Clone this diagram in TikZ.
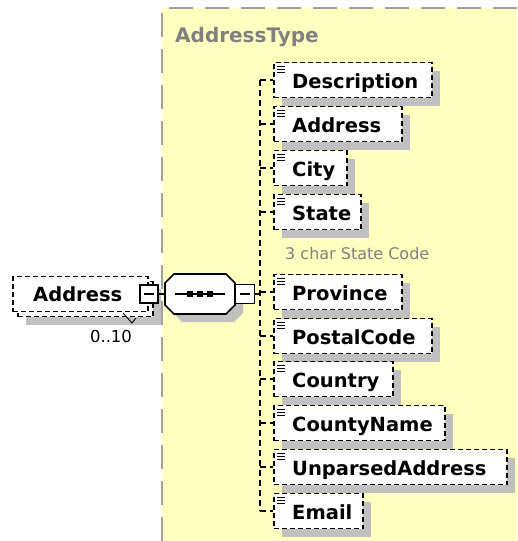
\documentclass[tikz,border=0pt]{standalone}
\usepackage{fontspec}
\setmainfont{DejaVu Sans}
\definecolor{ybg}{RGB}{255,255,192}
\definecolor{shd}{RGB}{192,192,192}
\definecolor{bgray}{RGB}{160,160,160}
\definecolor{tgray}{RGB}{128,128,128}
\begin{document}
\begin{tikzpicture}[x=1pt,y=-1pt,
  eb/.style={draw=black, line width=1.8pt, dash pattern=on 5pt off 3pt, fill=white, inner sep=0pt, minimum height=35pt},
  et/.style={font=\fontsize{19.5}{21}\selectfont\bfseries, inner sep=0pt, anchor=base west},
  mbox/.style={draw=black, line width=1.6pt, fill=white, minimum width=18pt, minimum height=18pt, inner sep=0pt},
  conn/.style={line width=1.8pt, dash pattern=on 6pt off 4pt},
  solidln/.style={line width=1.6pt},
  sh/.style={fill=shd},
  lbl/.style={inner sep=0pt, anchor=base west}
]
\useasboundingbox (0,0) rectangle (517,541);
% complex type area
\fill[ybg] (162,8) rectangle (517,541);
\draw[bgray, line width=2.2pt, dash pattern=on 24pt off 12pt] (162,541) -- (162,8) -- (517,8);
\node[lbl, font=\fontsize{20}{22}\selectfont\bfseries, text=tgray] (title) at (175,42) {AddressType};

% left element with max occurs 10
\fill[sh] (26,289) rectangle (161,325);
\node[eb, minimum width=135pt] (addrback) at (85.5,299) {};
\node[eb, minimum width=135pt] (addr) at (80.5,294) {};
\node[et] (addrt) at (33,301) {Address};
\node[mbox] (m1) at (149,294) {};
\draw[solidln] ([xshift=-5pt]m1.center) -- ([xshift=5pt]m1.center);
\draw[line width=0.9pt] (123,313) -- (132,323) -- (136,318);
\node[font=\fontsize{16.5}{18}\selectfont, inner sep=0pt] (occ) at (111,336) {0..10};

% sequence compositor
\fill[sh] (182,282) -- (234,282) -- (243,291) -- (243,313) -- (234,322) -- (182,322) -- (173,313) -- (173,291) -- cycle;
\node[minimum width=70pt, minimum height=40pt, inner sep=0pt] (seq) at (200,294) {};
\draw[solidln, fill=white] (174,274) -- (226,274) -- (235,283) -- (235,305) -- (226,314) -- (174,314) -- (165,305) -- (165,283) -- cycle;
\draw[solidln] (175,294) -- (225,294);
\foreach \sx in {190,200,210} \fill (\sx-2.8,291.2) rectangle (\sx+2.8,296.8);
\node[mbox, minimum width=19pt, minimum height=19pt] (m2) at (245,294) {};
\draw[solidln] ([xshift=-5pt]m2.center) -- ([xshift=5pt]m2.center);
\draw[solidln] (m1.east) -- (seq.west);
\coordinate (trunk) at (260,294);
\draw[solidln] (m2.east) -- (trunk);

% trunk
\coordinate (ttop) at (260,80);
\coordinate (tbot) at (260,511);
\draw[conn] (ttop) -- (tbot);

% child elements
\foreach \n/\t/\cy/\rx in {desc/Description/80/432, addrc/Address/124/402, city/City/168/347, state/State/212/361, prov/Province/292/402, postal/PostalCode/336/432, country/Country/379/393, county/CountyName/423/445, unparsed/UnparsedAddress/467/507, email/Email/511/363}{
  \pgfmathsetmacro\w{\rx-274}
  \fill[sh] (282,\cy-9.5) rectangle (\rx+8,\cy+25.5);
  \node[eb, minimum width=\w pt] (\n) at ({(274+\rx)/2},\cy) {};
  \foreach \k in {4,7,10} \draw[line width=1.1pt] (277,\cy-17.5+\k) -- (285,\cy-17.5+\k);
  \node[et] (\n-t) at (292,\cy+8) {\t};
  \coordinate (\n-j) at (260,\cy);
  \draw[conn] (\n-j) -- (\n.west);
}
\node[lbl, font=\fontsize{16}{18}\selectfont, text=tgray] (note) at (285,259) {3 char State Code};
\end{tikzpicture}
\end{document}
